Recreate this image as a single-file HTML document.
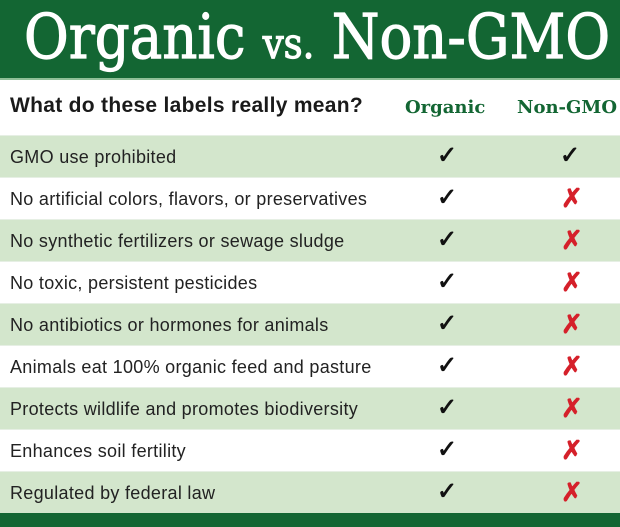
<!DOCTYPE html>
<html><head><meta charset="utf-8"><style>
body{margin:0;width:620px;height:527px;overflow:hidden;background:#fff;font-family:"Liberation Sans",sans-serif;position:relative}
.hd{position:absolute;left:0;top:0;width:620px;height:78px;background:#136633;border-bottom:2px solid #8fbf97;overflow:hidden}
.t{position:absolute;left:24px;top:0px;white-space:nowrap;color:#fff;font-family:"DejaVu Serif","Liberation Serif",serif;font-weight:normal;font-size:62px;line-height:74px;transform:scaleX(0.88);transform-origin:0 0;-webkit-text-stroke:1.2px #fff}
.t small{font-size:42px}
.q{position:absolute;left:10px;top:94px;font-size:21px;letter-spacing:0.3px;font-weight:bold;color:#1a1a1a}
.c{position:absolute;top:97px;font-family:"DejaVu Serif",serif;font-weight:bold;font-size:18px;color:#136633}
.row{position:absolute;left:0;width:620px;height:41px;border-top:1px solid #e6efe4}
.g{background:#d3e6cc}
.row span{position:absolute;left:10px;top:11px;font-size:18px;letter-spacing:0.3px;color:#222}
.ck,.x{position:absolute;top:5px;font-size:24px;line-height:30px}
.ck{left:437px;color:#111}
.ck2{left:560px}
.x{left:561px;color:#d5202a;font-size:26px}
.ft{position:absolute;left:0;top:513px;width:620px;height:14px;background:#136633}
</style></head><body>
<div class="hd"><div class="t">Organic <small>vs.</small> Non-GMO</div></div>
<div class="q">What do these labels really mean?</div>
<div class="c" style="left:405px">Organic</div>
<div class="c" style="left:517px">Non-GMO</div>
<div class="row g" style="top:135px"><span>GMO use prohibited</span><b class="ck">✓</b><b class="ck ck2">✓</b></div>
<div class="row" style="top:177px"><span>No artificial colors, flavors, or preservatives</span><b class="ck">✓</b><b class="x">✗</b></div>
<div class="row g" style="top:219px"><span>No synthetic fertilizers or sewage sludge</span><b class="ck">✓</b><b class="x">✗</b></div>
<div class="row" style="top:261px"><span>No toxic, persistent pesticides</span><b class="ck">✓</b><b class="x">✗</b></div>
<div class="row g" style="top:303px"><span>No antibiotics or hormones for animals</span><b class="ck">✓</b><b class="x">✗</b></div>
<div class="row" style="top:345px"><span>Animals eat 100% organic feed and pasture</span><b class="ck">✓</b><b class="x">✗</b></div>
<div class="row g" style="top:387px"><span>Protects wildlife and promotes biodiversity</span><b class="ck">✓</b><b class="x">✗</b></div>
<div class="row" style="top:429px"><span>Enhances soil fertility</span><b class="ck">✓</b><b class="x">✗</b></div>
<div class="row g" style="top:471px"><span>Regulated by federal law</span><b class="ck">✓</b><b class="x">✗</b></div>
<div class="ft"></div>
</body></html>
